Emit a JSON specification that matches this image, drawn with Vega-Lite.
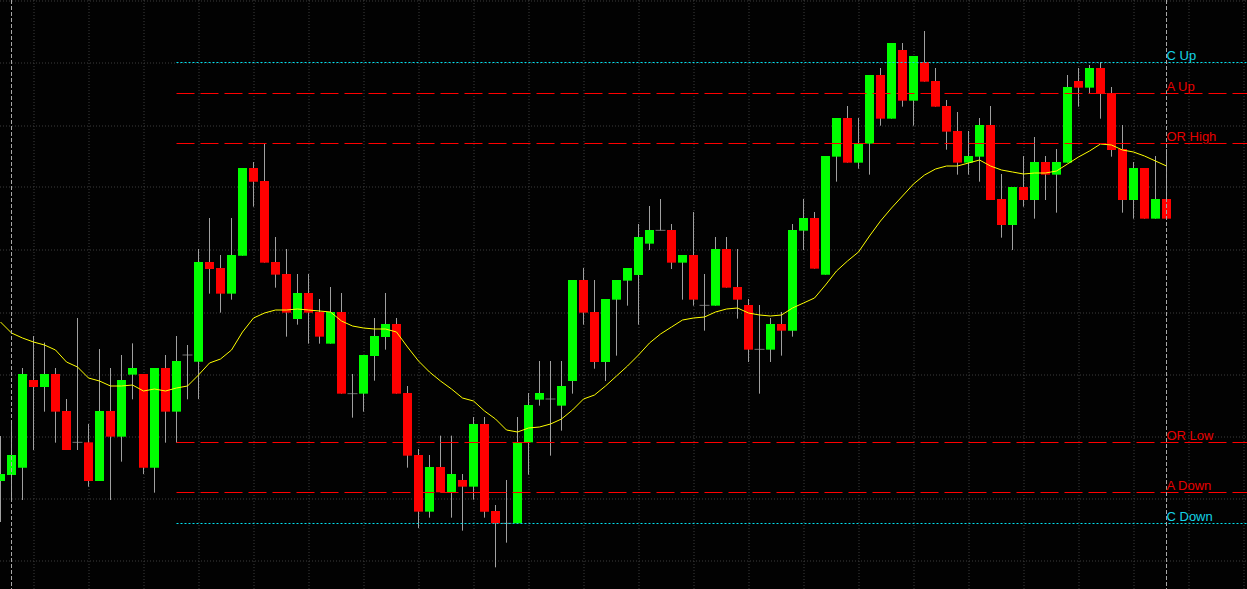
{
  "$schema": "https://vega.github.io/schema/vega-lite/v6.json",
  "description": "Intraday candles with opening range levels",
  "width": 1247,
  "height": 589,
  "autosize": "none",
  "padding": 0,
  "background": "#020202",
  "config": {
    "view": {"stroke": null},
    "axis": {
      "labels": false,
      "ticks": false,
      "domain": false,
      "title": null,
      "grid": true,
      "gridColor": "#3c3c3c",
      "gridDash": [1, 2],
      "gridWidth": 1,
      "translate": 0
    }
  },
  "datasets": {
    "candles": [
      {"i":0,"o":1.09557,"h":1.09692,"l":1.09434,"c":1.09578,"ma":1.10034},
      {"i":1,"o":1.09575,"h":1.09728,"l":1.095,"c":1.09635,"ma":1.10001},
      {"i":2,"o":1.09597,"h":1.09896,"l":1.095,"c":1.09878,"ma":1.09986},
      {"i":3,"o":1.0986,"h":1.09992,"l":1.0965,"c":1.09839,"ma":1.09974},
      {"i":4,"o":1.09839,"h":1.09972,"l":1.09765,"c":1.09878,"ma":1.09965},
      {"i":5,"o":1.09878,"h":1.09896,"l":1.09672,"c":1.09765,"ma":1.0995},
      {"i":6,"o":1.09767,"h":1.09803,"l":1.0965,"c":1.0965,"ma":1.09914},
      {"i":7,"o":1.09673,"h":1.10046,"l":1.0965,"c":1.09673,"ma":1.09899},
      {"i":8,"o":1.09673,"h":1.09728,"l":1.0954,"c":1.09557,"ma":1.09866},
      {"i":9,"o":1.09557,"h":1.09953,"l":1.09557,"c":1.09767,"ma":1.09857},
      {"i":10,"o":1.09767,"h":1.09896,"l":1.095,"c":1.0969,"ma":1.09842},
      {"i":11,"o":1.0969,"h":1.09935,"l":1.09615,"c":1.0986,"ma":1.09842},
      {"i":12,"o":1.09876,"h":1.0997,"l":1.09802,"c":1.09896,"ma":1.09845},
      {"i":13,"o":1.09878,"h":1.09878,"l":1.09578,"c":1.09597,"ma":1.09827},
      {"i":14,"o":1.09597,"h":1.09896,"l":1.09522,"c":1.09896,"ma":1.09833},
      {"i":15,"o":1.09896,"h":1.09935,"l":1.09672,"c":1.09765,"ma":1.09827},
      {"i":16,"o":1.09765,"h":1.09992,"l":1.09672,"c":1.09917,"ma":1.09836},
      {"i":17,"o":1.09935,"h":1.09965,"l":1.09802,"c":1.09935,"ma":1.09842},
      {"i":18,"o":1.09915,"h":1.10253,"l":1.09803,"c":1.10214,"ma":1.09875},
      {"i":19,"o":1.10214,"h":1.10346,"l":1.10119,"c":1.10193,"ma":1.09911},
      {"i":20,"o":1.10196,"h":1.10235,"l":1.10062,"c":1.10119,"ma":1.09923},
      {"i":21,"o":1.10119,"h":1.10346,"l":1.10101,"c":1.10235,"ma":1.0995},
      {"i":22,"o":1.10233,"h":1.10496,"l":1.10233,"c":1.10496,"ma":1.10004},
      {"i":23,"o":1.10496,"h":1.10514,"l":1.1038,"c":1.10455,"ma":1.10046},
      {"i":24,"o":1.10457,"h":1.10568,"l":1.10212,"c":1.10212,"ma":1.10061},
      {"i":25,"o":1.10214,"h":1.10289,"l":1.10137,"c":1.10176,"ma":1.1007},
      {"i":26,"o":1.10178,"h":1.10253,"l":1.0999,"c":1.10062,"ma":1.1007},
      {"i":27,"o":1.10043,"h":1.10178,"l":1.10026,"c":1.10121,"ma":1.10073},
      {"i":28,"o":1.10121,"h":1.10178,"l":1.09969,"c":1.10062,"ma":1.1007},
      {"i":29,"o":1.10064,"h":1.10103,"l":1.09969,"c":1.0999,"ma":1.10067},
      {"i":30,"o":1.09969,"h":1.10139,"l":1.09969,"c":1.10064,"ma":1.10064},
      {"i":31,"o":1.10064,"h":1.10121,"l":1.09819,"c":1.09819,"ma":1.10037},
      {"i":32,"o":1.09819,"h":1.09878,"l":1.09747,"c":1.09819,"ma":1.10022},
      {"i":33,"o":1.09819,"h":1.09935,"l":1.09765,"c":1.09935,"ma":1.10016},
      {"i":34,"o":1.09932,"h":1.10046,"l":1.09858,"c":1.09992,"ma":1.10013},
      {"i":35,"o":1.09989,"h":1.10121,"l":1.09951,"c":1.10028,"ma":1.10013},
      {"i":36,"o":1.10028,"h":1.10046,"l":1.09819,"c":1.09819,"ma":1.10004},
      {"i":37,"o":1.09821,"h":1.09842,"l":1.09597,"c":1.09633,"ma":1.09959},
      {"i":38,"o":1.09635,"h":1.09653,"l":1.09416,"c":1.09465,"ma":1.09917},
      {"i":39,"o":1.09465,"h":1.09635,"l":1.09447,"c":1.09599,"ma":1.09884},
      {"i":40,"o":1.09599,"h":1.09693,"l":1.09523,"c":1.09523,"ma":1.09857},
      {"i":41,"o":1.09523,"h":1.09693,"l":1.09447,"c":1.09578,"ma":1.09833},
      {"i":42,"o":1.0956,"h":1.09578,"l":1.09408,"c":1.0954,"ma":1.09806},
      {"i":43,"o":1.0954,"h":1.09749,"l":1.09501,"c":1.09728,"ma":1.09797},
      {"i":44,"o":1.09728,"h":1.09749,"l":1.09447,"c":1.09465,"ma":1.09767},
      {"i":45,"o":1.09467,"h":1.09485,"l":1.09298,"c":1.0943,"ma":1.09743},
      {"i":46,"o":1.0943,"h":1.0956,"l":1.09372,"c":1.0943,"ma":1.0971},
      {"i":47,"o":1.0943,"h":1.09749,"l":1.0943,"c":1.09673,"ma":1.09704},
      {"i":48,"o":1.09673,"h":1.09821,"l":1.09576,"c":1.09785,"ma":1.09716},
      {"i":49,"o":1.09801,"h":1.09917,"l":1.09783,"c":1.09821,"ma":1.09719},
      {"i":50,"o":1.09803,"h":1.09917,"l":1.09633,"c":1.09803,"ma":1.09728},
      {"i":51,"o":1.09783,"h":1.09917,"l":1.09708,"c":1.09842,"ma":1.09743},
      {"i":52,"o":1.09857,"h":1.1016,"l":1.09819,"c":1.1016,"ma":1.0977},
      {"i":53,"o":1.1016,"h":1.10196,"l":1.10026,"c":1.10062,"ma":1.09803},
      {"i":54,"o":1.10064,"h":1.1016,"l":1.09894,"c":1.09914,"ma":1.09815},
      {"i":55,"o":1.09914,"h":1.10103,"l":1.09857,"c":1.10103,"ma":1.09842},
      {"i":56,"o":1.10101,"h":1.1016,"l":1.09933,"c":1.1016,"ma":1.09872},
      {"i":57,"o":1.10158,"h":1.10196,"l":1.10083,"c":1.10196,"ma":1.09902},
      {"i":58,"o":1.10175,"h":1.10328,"l":1.10026,"c":1.10289,"ma":1.09935},
      {"i":59,"o":1.10269,"h":1.10382,"l":1.1025,"c":1.1031,"ma":1.09971},
      {"i":60,"o":1.10309,"h":1.10403,"l":1.10309,"c":1.10309,"ma":1.09998},
      {"i":61,"o":1.1031,"h":1.10328,"l":1.10193,"c":1.10212,"ma":1.10019},
      {"i":62,"o":1.10212,"h":1.10235,"l":1.10101,"c":1.10235,"ma":1.1004},
      {"i":63,"o":1.10235,"h":1.10364,"l":1.10083,"c":1.10101,"ma":1.10046},
      {"i":64,"o":1.10084,"h":1.10178,"l":1.10008,"c":1.10084,"ma":1.10049},
      {"i":65,"o":1.10083,"h":1.10289,"l":1.10083,"c":1.10253,"ma":1.10064},
      {"i":66,"o":1.10253,"h":1.10289,"l":1.10137,"c":1.10137,"ma":1.10073},
      {"i":67,"o":1.10139,"h":1.10253,"l":1.10044,"c":1.10101,"ma":1.10076},
      {"i":68,"o":1.10085,"h":1.10103,"l":1.09914,"c":1.09951,"ma":1.10061},
      {"i":69,"o":1.09952,"h":1.10085,"l":1.09819,"c":1.09952,"ma":1.10055},
      {"i":70,"o":1.09951,"h":1.10046,"l":1.09914,"c":1.10028,"ma":1.10052},
      {"i":71,"o":1.10028,"h":1.10064,"l":1.09933,"c":1.10008,"ma":1.10055},
      {"i":72,"o":1.10008,"h":1.10328,"l":1.0999,"c":1.1031,"ma":1.10076},
      {"i":73,"o":1.10308,"h":1.10403,"l":1.1025,"c":1.10346,"ma":1.10091},
      {"i":74,"o":1.10346,"h":1.10364,"l":1.10194,"c":1.10194,"ma":1.10106},
      {"i":75,"o":1.10176,"h":1.10532,"l":1.10176,"c":1.10532,"ma":1.10145},
      {"i":76,"o":1.1053,"h":1.10646,"l":1.10455,"c":1.10646,"ma":1.10187},
      {"i":77,"o":1.10646,"h":1.10682,"l":1.10512,"c":1.10512,"ma":1.10217},
      {"i":78,"o":1.10512,"h":1.10646,"l":1.10494,"c":1.10569,"ma":1.10244},
      {"i":79,"o":1.10569,"h":1.10775,"l":1.10476,"c":1.10775,"ma":1.10292},
      {"i":80,"o":1.10775,"h":1.10796,"l":1.10623,"c":1.10644,"ma":1.10337},
      {"i":81,"o":1.10644,"h":1.10871,"l":1.10644,"c":1.10871,"ma":1.10376},
      {"i":82,"o":1.1085,"h":1.10871,"l":1.1068,"c":1.10698,"ma":1.10412},
      {"i":83,"o":1.10698,"h":1.10832,"l":1.10623,"c":1.10832,"ma":1.10448},
      {"i":84,"o":1.10814,"h":1.10907,"l":1.10755,"c":1.10755,"ma":1.10475},
      {"i":85,"o":1.10757,"h":1.10796,"l":1.1068,"c":1.1068,"ma":1.10493},
      {"i":86,"o":1.10682,"h":1.107,"l":1.10551,"c":1.10605,"ma":1.10502},
      {"i":87,"o":1.10607,"h":1.10664,"l":1.10476,"c":1.10512,"ma":1.10502},
      {"i":88,"o":1.10512,"h":1.10607,"l":1.10476,"c":1.10532,"ma":1.10511},
      {"i":89,"o":1.1053,"h":1.10646,"l":1.10455,"c":1.10625,"ma":1.1052},
      {"i":90,"o":1.10625,"h":1.10682,"l":1.104,"c":1.104,"ma":1.10502},
      {"i":91,"o":1.10403,"h":1.10478,"l":1.10287,"c":1.10325,"ma":1.1049},
      {"i":92,"o":1.10325,"h":1.10439,"l":1.1025,"c":1.10439,"ma":1.10484},
      {"i":93,"o":1.10439,"h":1.10532,"l":1.1038,"c":1.104,"ma":1.10478},
      {"i":94,"o":1.104,"h":1.10589,"l":1.10344,"c":1.10514,"ma":1.10481},
      {"i":95,"o":1.10514,"h":1.10532,"l":1.104,"c":1.10476,"ma":1.10481},
      {"i":96,"o":1.10476,"h":1.10553,"l":1.10362,"c":1.10514,"ma":1.10487},
      {"i":97,"o":1.10512,"h":1.10775,"l":1.10512,"c":1.10739,"ma":1.10508},
      {"i":98,"o":1.10757,"h":1.10796,"l":1.1068,"c":1.10737,"ma":1.10529},
      {"i":99,"o":1.10737,"h":1.10805,"l":1.10719,"c":1.10796,"ma":1.10547},
      {"i":100,"o":1.10796,"h":1.10814,"l":1.10644,"c":1.10719,"ma":1.10568},
      {"i":101,"o":1.10721,"h":1.10739,"l":1.1053,"c":1.1055,"ma":1.10565},
      {"i":102,"o":1.10553,"h":1.10625,"l":1.10362,"c":1.104,"ma":1.1055},
      {"i":103,"o":1.104,"h":1.10514,"l":1.10344,"c":1.10496,"ma":1.10544},
      {"i":104,"o":1.10496,"h":1.10496,"l":1.10344,"c":1.10344,"ma":1.10532},
      {"i":105,"o":1.10344,"h":1.10532,"l":1.10344,"c":1.10403,"ma":1.10517},
      {"i":106,"o":1.10403,"h":1.10553,"l":1.10344,"c":1.10344,"ma":1.10502}
    ],
    "levels": [
      {"level": "C Up", "kind": "outer", "price": 1.108125},
      {"level": "A Up", "kind": "inner", "price": 1.107195},
      {"level": "OR High", "kind": "inner", "price": 1.105695},
      {"level": "OR Low", "kind": "inner", "price": 1.096725},
      {"level": "A Down", "kind": "inner", "price": 1.095225},
      {"level": "C Down", "kind": "outer", "price": 1.094295}
    ],
    "sessions": [
      {"i": 1},
      {"i": 106}
    ]
  },
  "data": {"name": "candles"},
  "layer": [
    {
      "mark": {"type": "rule", "color": "#a0a0a0", "strokeWidth": 1},
      "encoding": {
        "x": {
          "field": "i",
          "type": "quantitative",
          "scale": {"domain": [-0.0455, 113.318], "nice": false, "zero": false, "padding": 0},
          "axis": {"values": [3, 8, 13, 18, 23, 28, 33, 38, 43, 48, 53, 58, 63, 68, 73, 78, 83, 88, 93, 98, 103, 108, 113]}
        },
        "y": {
          "field": "h",
          "type": "quantitative",
          "scale": {"domain": [1.09233, 1.11], "nice": false, "zero": false, "padding": 0},
          "axis": {"values": [1.093155, 1.094085, 1.095015, 1.095975, 1.096905, 1.097835, 1.098765, 1.099695, 1.100625, 1.101585, 1.102515, 1.103445, 1.104375, 1.105305, 1.106235, 1.107195, 1.108125, 1.109055, 1.109985]}
        },
        "y2": {"field": "l"}
      }
    },
    {
      "mark": {"type": "bar", "orient": "vertical", "width": 9},
      "encoding": {
        "x": {"field": "i", "type": "quantitative"},
        "y": {"field": "o", "type": "quantitative"},
        "y2": {"field": "c"},
        "color": {
          "condition": {"test": "datum.c > datum.o", "value": "#00ff00"},
          "value": "#ff0000"
        }
      }
    },
    {
      "transform": [{"filter": "datum.o == datum.c"}],
      "mark": {"type": "tick", "orient": "horizontal", "size": 10, "thickness": 1, "color": "#a0a0a0"},
      "encoding": {
        "x": {"field": "i", "type": "quantitative"},
        "y": {"field": "o", "type": "quantitative"}
      }
    },
    {
      "mark": {"type": "line", "color": "#ffff00", "strokeWidth": 1},
      "encoding": {
        "x": {"field": "i", "type": "quantitative"},
        "y": {"field": "ma", "type": "quantitative"}
      }
    },
    {
      "data": {"name": "levels"},
      "transform": [{"filter": "datum.kind == 'inner'"}],
      "mark": {"type": "rule", "color": "#ff0000", "strokeWidth": 1, "strokeDash": [18, 6]},
      "encoding": {
        "x": {"datum": 16, "type": "quantitative"},
        "x2": {"datum": 113.318},
        "y": {"field": "price", "type": "quantitative"}
      }
    },
    {
      "data": {"name": "levels"},
      "transform": [{"filter": "datum.kind == 'outer'"}],
      "mark": {"type": "rule", "color": "#00e1ef", "strokeWidth": 1, "strokeDash": [2, 2]},
      "encoding": {
        "x": {"datum": 16, "type": "quantitative"},
        "x2": {"datum": 113.318},
        "y": {"field": "price", "type": "quantitative"}
      }
    },
    {
      "data": {"name": "sessions"},
      "mark": {"type": "rule", "color": "#a8a8a8", "strokeWidth": 1, "strokeDash": [4, 2]},
      "encoding": {
        "x": {"field": "i", "type": "quantitative"}
      }
    },
    {
      "data": {"name": "levels"},
      "transform": [{"filter": "datum.kind == 'inner'"}],
      "mark": {"type": "text", "align": "left", "baseline": "alphabetic", "dy": -3, "font": "Liberation Sans", "fontSize": 13, "color": "#e80000"},
      "encoding": {
        "x": {"datum": 106, "type": "quantitative"},
        "y": {"field": "price", "type": "quantitative"},
        "text": {"field": "level"}
      }
    },
    {
      "data": {"name": "levels"},
      "transform": [{"filter": "datum.kind == 'outer'"}],
      "mark": {"type": "text", "align": "left", "baseline": "alphabetic", "dy": -3, "font": "Liberation Sans", "fontSize": 13, "color": "#14d2e6"},
      "encoding": {
        "x": {"datum": 106, "type": "quantitative"},
        "y": {"field": "price", "type": "quantitative"},
        "text": {"field": "level"}
      }
    }
  ]
}
